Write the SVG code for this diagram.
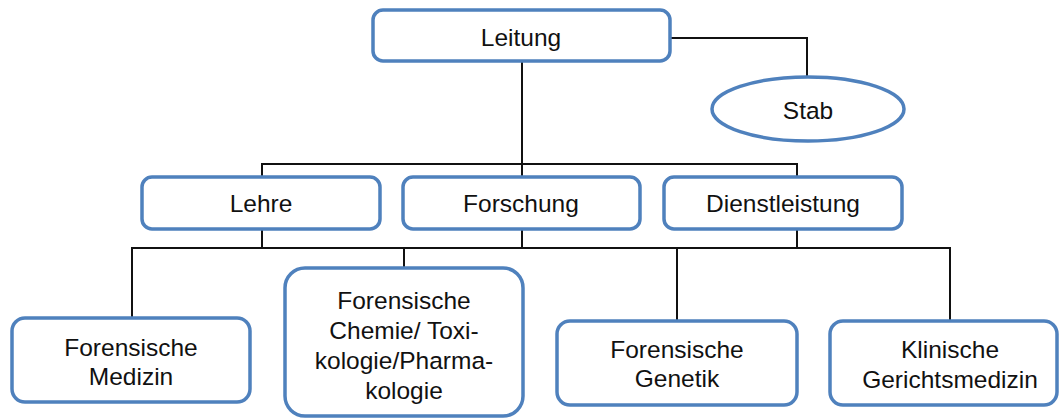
<svg xmlns="http://www.w3.org/2000/svg" width="1059" height="419" viewBox="0 0 1059 419">
<style>
.box{fill:#fff;stroke:#4f81bd;stroke-width:3.5}
.lbl{font-family:"Liberation Sans",Arial,sans-serif;font-size:24.5px;fill:#111;text-anchor:middle}
.con{fill:none;stroke:#111;stroke-width:2}
</style>
<rect width="1059" height="419" fill="#fff"/>
<g id="connectors" class="con">
<path d="M522,61 V177"/>
<path d="M670,38 H807 V77"/>
<path d="M262,177 V164 H797 V177"/>
<path d="M262,229 V248"/>
<path d="M522,229 V248"/>
<path d="M797,229 V248"/>
<path d="M132,318 V248 H950 V321"/>
<path d="M404,248 V268"/>
<path d="M677,248 V321"/>
</g>
<g id="leitung"><rect class="box" x="373" y="10" width="297" height="51" rx="10"/><text class="lbl" x="521" y="46">Leitung</text></g>
<g id="stab"><ellipse class="box" cx="808" cy="109" rx="96" ry="32"/><text class="lbl" x="808" y="119">Stab</text></g>
<g id="lehre"><rect class="box" x="142" y="177" width="238" height="52" rx="10"/><text class="lbl" x="261" y="212">Lehre</text></g>
<g id="forschung"><rect class="box" x="403" y="177" width="237" height="52" rx="10"/><text class="lbl" x="521" y="212">Forschung</text></g>
<g id="dienstleistung"><rect class="box" x="664" y="177" width="238" height="52" rx="10"/><text class="lbl" x="783" y="212">Dienstleistung</text></g>
<g id="medizin"><rect class="box" x="12" y="318" width="238" height="84" rx="13"/><text class="lbl" x="131" y="356">Forensische</text><text class="lbl" x="131" y="385">Medizin</text></g>
<g id="chemie"><rect class="box" x="285" y="268" width="238" height="148" rx="20"/><text class="lbl" x="404" y="309">Forensische</text><text class="lbl" x="404" y="339">Chemie/ Toxi-</text><text class="lbl" x="404" y="369">kologie/Pharma-</text><text class="lbl" x="404" y="399">kologie</text></g>
<g id="genetik"><rect class="box" x="557" y="321" width="240" height="84" rx="13"/><text class="lbl" x="677" y="358">Forensische</text><text class="lbl" x="677" y="387">Genetik</text></g>
<g id="klinische"><rect class="box" x="830" y="321" width="227" height="84" rx="13"/><text class="lbl" x="950" y="358">Klinische</text><text class="lbl" x="950" y="388">Gerichtsmedizin</text></g>
</svg>
